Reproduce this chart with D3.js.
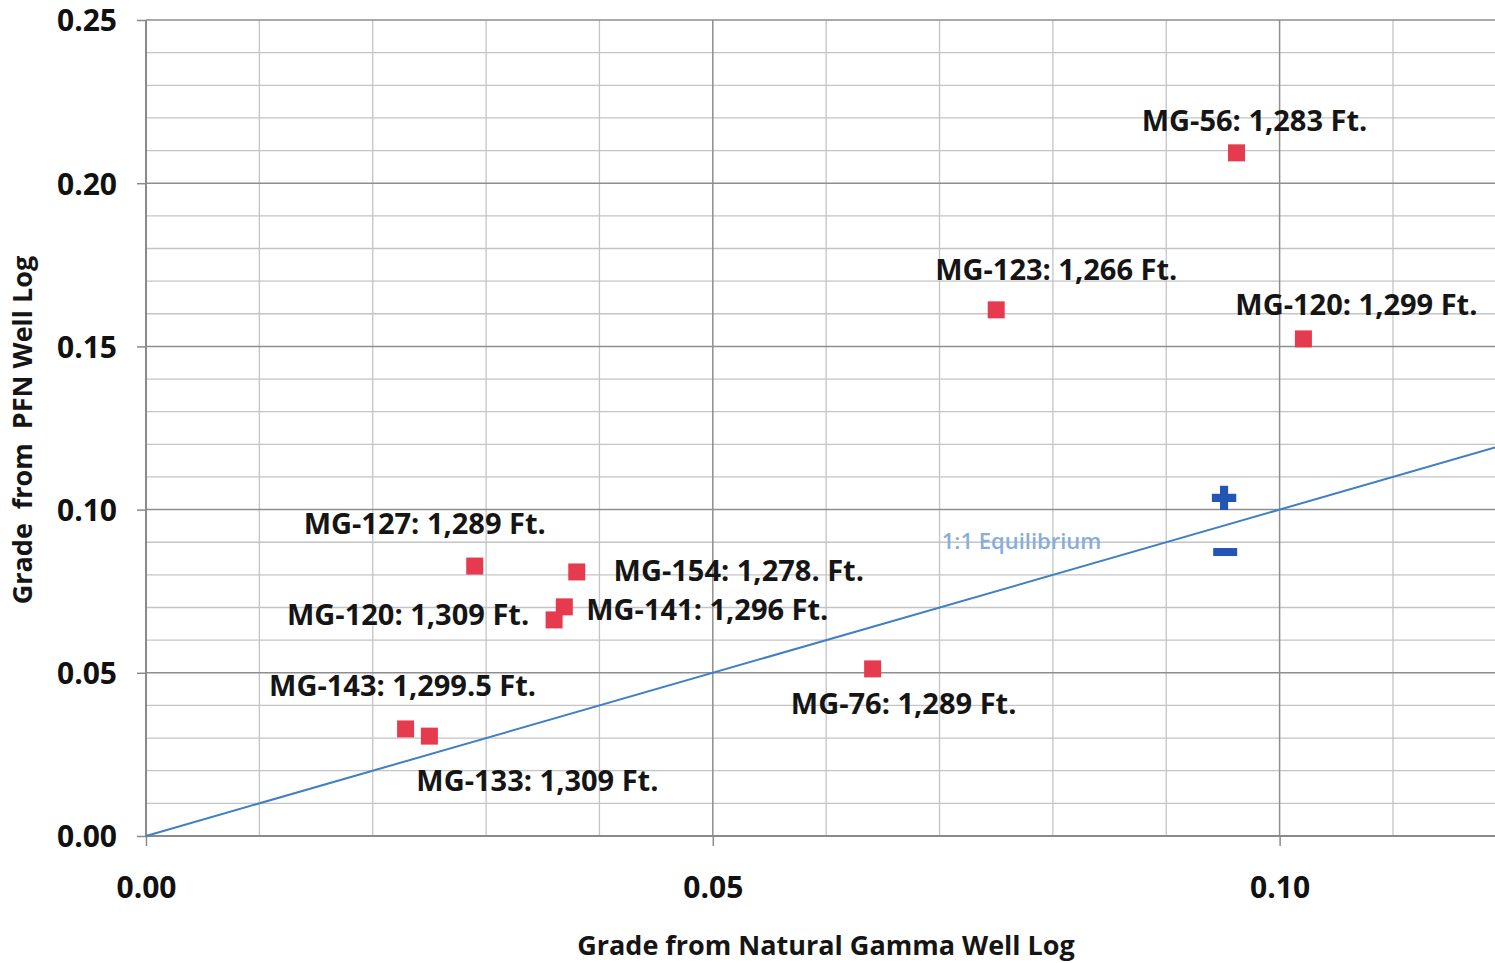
<!DOCTYPE html>
<html>
<head>
<meta charset="utf-8">
<script src="https://cdn.jsdelivr.net/npm/d3@7"></script>
<style>
  html, body { margin: 0; padding: 0; background: #ffffff; }
  svg { display: block; }
  text { font-family: "Open Sans", "DejaVu Sans", sans-serif; }
</style>
</head>
<body>
<svg id="chart" width="1495" height="963"></svg>
<script>
// Core sample grades: natural gamma (x) vs. PFN (y)
const sampleNames = [
  "MG-56: 1,283 Ft.",
  "MG-123: 1,266 Ft.",
  "MG-120: 1,299 Ft.",
  "MG-127: 1,289 Ft.",
  "MG-154: 1,278. Ft.",
  "MG-141: 1,296 Ft.",
  "MG-120: 1,309 Ft.",
  "MG-76: 1,289 Ft.",
  "MG-143: 1,299.5 Ft.",
  "MG-133: 1,309 Ft."
];
const gammaGrade = [0.0962, 0.0750, 0.1021, 0.0290, 0.0380, 0.0369, 0.0360, 0.0641, 0.0229, 0.0250];
const pfnGrade   = [0.2093, 0.1612, 0.1523, 0.0827, 0.0809, 0.0702, 0.0662, 0.0512, 0.0328, 0.0306];

// Label placement relative to each marker (pixels: centre x offset, baseline y offset)
const labelOffsets = [
  [18, -22], [60, -30], [53, -24], [-50, -32], [162, 9],
  [143, 13], [-146, 5], [31, 45], [-3, -33], [108, 55]
];

// Above / below equilibrium indicators
const indicatorKinds = ["plus", "minus"];
const indicatorX = [0.0951, 0.0952];
const indicatorY = [0.1036, 0.0870];

// 1:1 equilibrium line
const equilibriumX = [0, 0.119];
const equilibriumY = [0, 0.119];

// Axes
const xTicks = [0.00, 0.05, 0.10];
const yTicks = [0.00, 0.05, 0.10, 0.15, 0.20, 0.25];
const xDomain = [0, 0.119];
const yDomain = [0, 0.25];

const svg = d3.select("#chart");
const margin = { left: 146, top: 20, right: 0, bottom: 127 };
const W = 1495, H = 963;

const x = d3.scaleLinear().domain(xDomain).range([margin.left, W - margin.right]);
const y = d3.scaleLinear().domain(yDomain).range([H - margin.bottom, margin.top]);

const g = svg.append("g");

// Minor grid every 0.01
const minorX = d3.range(0, 0.1195, 0.01).map(v => +v.toFixed(2));
const minorY = d3.range(0, 0.2505, 0.01).map(v => +v.toFixed(2));
const isMajor = v => Math.abs(Math.round(v / 0.05) * 0.05 - v) < 1e-9;

g.append("g").selectAll("line")
  .data(minorY.filter(v => !isMajor(v)))
  .join("line")
  .attr("x1", x(0)).attr("x2", W)
  .attr("y1", d => y(d)).attr("y2", d => y(d))
  .attr("stroke", "#c4c4c4").attr("stroke-width", 1.3);

g.append("g").selectAll("line")
  .data(minorX.filter(v => !isMajor(v)))
  .join("line")
  .attr("y1", y(0)).attr("y2", y(0.25))
  .attr("x1", d => x(d)).attr("x2", d => x(d))
  .attr("stroke", "#c4c4c4").attr("stroke-width", 1.3);

// Major grid every 0.05
g.append("g").selectAll("line")
  .data(yTicks.filter(v => v > 0))
  .join("line")
  .attr("x1", x(0)).attr("x2", W)
  .attr("y1", d => y(d)).attr("y2", d => y(d))
  .attr("stroke", "#8e8e8e").attr("stroke-width", 1.5);

g.append("g").selectAll("line")
  .data(xTicks.filter(v => v > 0))
  .join("line")
  .attr("y1", y(0)).attr("y2", y(0.25))
  .attr("x1", d => x(d)).attr("x2", d => x(d))
  .attr("stroke", "#8e8e8e").attr("stroke-width", 1.5);

// Axes
const xAxis = d3.axisBottom(x).tickValues(xTicks).tickFormat(d3.format(".2f")).tickSize(10).tickPadding(30);
const yAxis = d3.axisLeft(y).tickValues(yTicks).tickFormat(d3.format(".2f")).tickSize(9).tickPadding(20);

const gx = svg.append("g").attr("transform", `translate(0,${y(0)})`).call(xAxis);
const gy = svg.append("g").attr("transform", `translate(${x(0)},0)`).call(yAxis);

[gx, gy].forEach(a => {
  a.select(".domain").attr("stroke", "#8a8a8a").attr("stroke-width", 2);
  a.selectAll(".tick line").attr("stroke", "#8a8a8a").attr("stroke-width", 1.5);
  a.selectAll(".tick text")
    .attr("fill", "#111")
    .style("font-family", '"Open Sans", sans-serif')
    .style("font-weight", 700)
    .style("font-size", "30px");
});
gx.select(".domain").attr("d", `M${x(0)},0H${W}`);
gy.select(".domain").attr("d", `M0,${y(0)}V${y(0.25)}`);
gy.selectAll(".tick text").attr("dy", "0.36em");
gx.selectAll(".tick text").attr("dy", "0.72em");

// Equilibrium line
const eqPts = equilibriumX.map((v, i) => [v, equilibriumY[i]]);
svg.append("path")
  .attr("d", d3.line().x(d => x(d[0])).y(d => y(d[1]))(eqPts))
  .attr("fill", "none")
  .attr("stroke", "#3f7fc4")
  .attr("stroke-width", 2);

svg.append("text")
  .attr("x", x(0.0702)).attr("y", y(0.0878))
  .attr("fill", "#86aedb")
  .style("font-size", "22px")
  .style("font-weight", 600)
  .text("1:1 Equilibrium");

// Sample markers
const samples = sampleNames.map((n, i) => ({ name: n, gx: gammaGrade[i], py: pfnGrade[i], off: labelOffsets[i] }));
const mk = 17;
svg.append("g").selectAll("rect")
  .data(samples)
  .join("rect")
  .attr("x", d => x(d.gx) - mk / 2)
  .attr("y", d => y(d.py) - mk / 2)
  .attr("width", mk).attr("height", mk)
  .attr("fill", "#e63a4e");

// Sample labels
svg.append("g").selectAll("text")
  .data(samples)
  .join("text")
  .attr("x", d => x(d.gx) + d.off[0])
  .attr("y", d => y(d.py) + d.off[1])
  .attr("text-anchor", "middle")
  .attr("fill", "#151515")
  .style("font-size", "29px")
  .style("font-weight", 700)
  .text(d => d.name);

// Indicators
const indicators = indicatorKinds.map((k, i) => ({ kind: k, gx: indicatorX[i], py: indicatorY[i] }));
const indG = svg.append("g");
indG.selectAll("path.plus")
  .data(indicators.filter(d => d.kind === "plus"))
  .join("path")
  .attr("class", "plus")
  .attr("transform", d => `translate(${x(d.gx)},${y(d.py)})`)
  .attr("d", d3.symbol(d3.symbolCross, 330))
  .attr("fill", "#2356b4");
indG.selectAll("rect.minus")
  .data(indicators.filter(d => d.kind === "minus"))
  .join("rect")
  .attr("class", "minus")
  .attr("x", d => x(d.gx) - 12)
  .attr("y", d => y(d.py) - 4)
  .attr("width", 24).attr("height", 8)
  .attr("fill", "#2356b4");

// Axis titles
svg.append("text")
  .attr("x", 826).attr("y", 955)
  .attr("text-anchor", "middle")
  .attr("fill", "#151515")
  .style("font-size", "27px")
  .style("font-weight", 700)
  .text("Grade from Natural Gamma Well Log");

svg.append("text")
  .attr("transform", "translate(32,430) rotate(-90)")
  .attr("text-anchor", "middle")
  .attr("fill", "#151515")
  .style("font-size", "27px")
  .style("font-weight", 700)
  .style("white-space", "pre")
  .attr("xml:space", "preserve")
  .text("Grade  from  PFN Well Log");
</script>
</body>
</html>
